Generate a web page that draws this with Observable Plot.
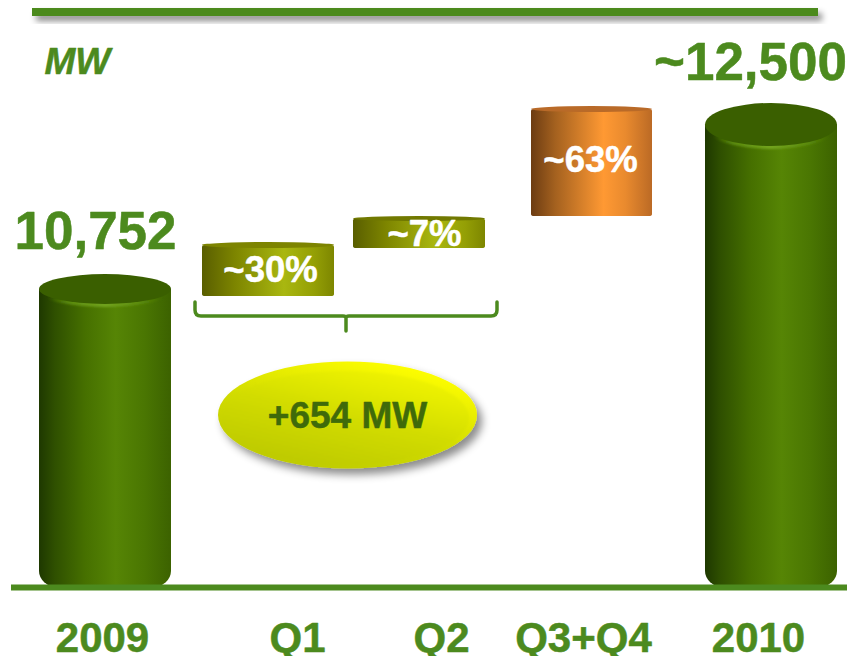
<!DOCTYPE html>
<html><head><meta charset="utf-8">
<style>html,body{margin:0;padding:0;background:#fff}svg{display:block}</style>
<script src="https://cdn.jsdelivr.net/npm/d3@7"></script>
<script src="https://cdn.jsdelivr.net/npm/@observablehq/plot@0.6"></script>
</head><body>
<script>
// Data
const categories = ["2009", "Q1", "Q2", "Q3+Q4", "2010"];
const barLow  = [0, 9996, 11018, 11345, 0];
const barHigh = [10752, 11079, 11345, 12469, 12500];
const totalLabels = ["10,752", null, null, null, "~12,500"];
const shareLabels = [null, "~30%", "~7%", "~63%", null];
const unitLabel = "MW";
const calloutLabel = "+654 MW";

// Layout and style, separate from the data
const green = "#4c8a1e";
const barShift   = [0, -3, -18, -6, 2];
const barNarrow  = [0, 0, 0, 11, 0];
const capRy      = [15, 3, 2.5, 3, 21.5];
const tickShift  = [-3, 26, 4, -20, -11];
const totalShift = [[-10, -42.5], null, null, null, [-19, -40]];
const shareShift = [null, [-1, -10], [-13, 2], [-13, -1], null];
const bodyFill = ["url(#g)", "url(#o)", "url(#o)", "url(#a)", "url(#g)"];
const capFill  = ["#3a5f00", "#7d8400", "#717900", "#b96a28", "#3a5f00"];

const grad = (id, stops) => `<linearGradient id="${id}" x1="0" x2="1" y1="0" y2="0">${stops.map(([o, c]) => `<stop offset="${o}" stop-color="${c}"/>`).join("")}</linearGradient>`;

const defsMark = () => {
  const s = d3.create("svg:defs");
  s.html(
    grad("g", [[0,"#1e3800"],[.12,"#2f5000"],[.35,"#467000"],[.58,"#568505"],[.8,"#4a7602"],[1,"#3c6200"]]) +
    grad("o", [[0,"#595e00"],[.25,"#7d8500"],[.62,"#a9b710"],[.85,"#949f05"],[1,"#7d8600"]]) +
    grad("a", [[0,"#6c3c12"],[.2,"#a4611f"],[.6,"#ff9933"],[.78,"#e98a2e"],[1,"#bb6a25"]]) +
    `<radialGradient id="rim" cx=".5" cy="1" r=".55"><stop offset="0" stop-color="#76a820"/><stop offset=".6" stop-color="#5a8a0c"/><stop offset="1" stop-color="#4a7602" stop-opacity="0"/></radialGradient>
     <linearGradient id="yo" x1=".1" x2=".7" y1="1" y2="0"><stop offset="0" stop-color="#b9c600"/><stop offset=".5" stop-color="#d2dc00"/><stop offset="1" stop-color="#ffff00"/></linearGradient>
     <linearGradient id="yi" x1=".1" x2=".7" y1="1" y2="0"><stop offset="0" stop-color="#b9c600"/><stop offset=".55" stop-color="#d2dc00"/><stop offset="1" stop-color="#f0f400"/></linearGradient>
     <filter id="sh" x="-10%" y="-60%" width="125%" height="260%"><feDropShadow dx="4" dy="5" stdDeviation="3" flood-color="#000" flood-opacity=".45"/></filter>
     <filter id="sh2" x="-10%" y="-20%" width="125%" height="145%"><feDropShadow dx="5" dy="6" stdDeviation="4" flood-color="#000" flood-opacity=".45"/></filter>
     <filter id="bl"><feGaussianBlur stdDeviation="1.2"/></filter>`
  );
  return s.node();
};

// cylinder top ellipses, positioned by the chart's scales
const capsMark = (index, scales) => {
  const g = d3.create("svg:g");
  categories.forEach((c, i) => {
    const w = scales.x.bandwidth() - barNarrow[i];
    const cx = scales.x(c) + barShift[i] + w / 2;
    const cy = scales.y(barHigh[i]) + capRy[i];
    if (capRy[i] > 5) g.append("ellipse").attr("cx", cx).attr("cy", cy + 3).attr("rx", w / 2 - 2).attr("ry", capRy[i])
      .attr("fill", "url(#rim)").attr("filter", "url(#bl)");
    g.append("ellipse").attr("cx", cx).attr("cy", cy).attr("rx", w / 2).attr("ry", capRy[i]).attr("fill", capFill[i]);
  });
  return g.node();
};

// decoration: header rule, bracket and callout
const decoMark = (index, scales) => {
  const g = d3.create("svg:g");
  g.append("rect").attr("x", 32).attr("y", 8).attr("width", 786).attr("height", 8).attr("fill", green).attr("filter", "url(#sh)");
  const l = scales.x("Q1") + barShift[1] - 7;
  const r = scales.x("Q2") + barShift[2] + scales.x.bandwidth() + 12;
  const t = scales.y(barLow[1]) + 6, b = t + 14, m = (l + r) / 2;
  g.append("path").attr("fill", "none").attr("stroke", green).attr("stroke-width", 3.5).attr("stroke-linecap", "round")
    .attr("d", `M${l},${t}V${b - 6}Q${l},${b} ${l + 6},${b}H${m - 3}Q${m},${b} ${m},${b + 2}V${b + 15}M${m},${b + 2}Q${m},${b} ${m + 3},${b}H${r - 6}Q${r},${b} ${r},${b - 6}V${t}`);
  g.append("ellipse").attr("cx", m + 1.5).attr("cy", 415).attr("rx", 129.5).attr("ry", 53.5).attr("fill", "url(#yo)").attr("filter", "url(#sh2)");
  g.append("ellipse").attr("cx", m - 1).attr("cy", 418).attr("rx", 124).attr("ry", 47).attr("fill", "url(#yi)").attr("filter", "url(#bl)");
  return g.node();
};

const marks = [defsMark];
categories.forEach((c, i) => {
  const row = [{c, lo: barLow[i], hi: barHigh[i]}];
  const common = {x: "c", y2: "hi", dx: barShift[i], insetRight: barNarrow[i], insetTop: capRy[i], fill: bodyFill[i]};
  const tall = barLow[i] === 0;
  marks.push(Plot.barY(row, {...common, y1: "lo", rx: tall ? 18 : 3, ry: tall ? 16 : 2}));
  if (tall) marks.push(Plot.barY(row, {...common, y1: d => d.hi / 2}));
});
marks.push(capsMark, decoMark);

const bold = {fontWeight: "bold", fontFamily: "Liberation Sans", strokeWidth: 0.5};
categories.forEach((c, i) => {
  marks.push(Plot.text([c], {x: d => d, y: () => 0, text: d => d, dx: tickShift[i], dy: 51.5, fill: green, stroke: green, fontSize: 42, ...bold}));
  if (totalLabels[i]) marks.push(Plot.text([c], {x: d => d, y: () => barHigh[i], text: () => totalLabels[i],
    dx: totalShift[i][0], dy: totalShift[i][1], fill: green, stroke: green, fontSize: 53, ...bold}));
  if (shareLabels[i]) marks.push(Plot.text([c], {x: d => d, y: () => (barLow[i] + barHigh[i]) / 2, text: () => shareLabels[i],
    dx: shareShift[i][0], dy: shareShift[i][1], fill: "white", stroke: "white", fontSize: 36.5, ...bold}));
});
marks.push(Plot.text([unitLabel], {frameAnchor: "top-left", text: d => d, dx: 5, dy: 47, fill: green, stroke: green, fontSize: 37, fontStyle: "italic", ...bold}));
marks.push(Plot.text([calloutLabel], {x: () => "Q1", y: () => 0, text: d => d, dx: 76, dy: -171, fill: "#3f6a0a", stroke: "#3f6a0a", fontSize: 37, ...bold}));
marks.push(Plot.ruleY([0], {stroke: green, strokeWidth: 6, insetLeft: -28, insetRight: -11}));

const chart = Plot.plot({
  width: 847, height: 656,
  marginLeft: 39, marginRight: 11, marginTop: 0, marginBottom: 0,
  x: {type: "band", domain: categories, paddingInner: 0.2048, paddingOuter: 0, round: true, axis: null},
  y: {type: "linear", domain: [0, 10752, 12500], range: [587, 274, 103], axis: null},
  style: {background: "white"},
  marks
});
document.body.appendChild(chart);
</script>
</body></html>
